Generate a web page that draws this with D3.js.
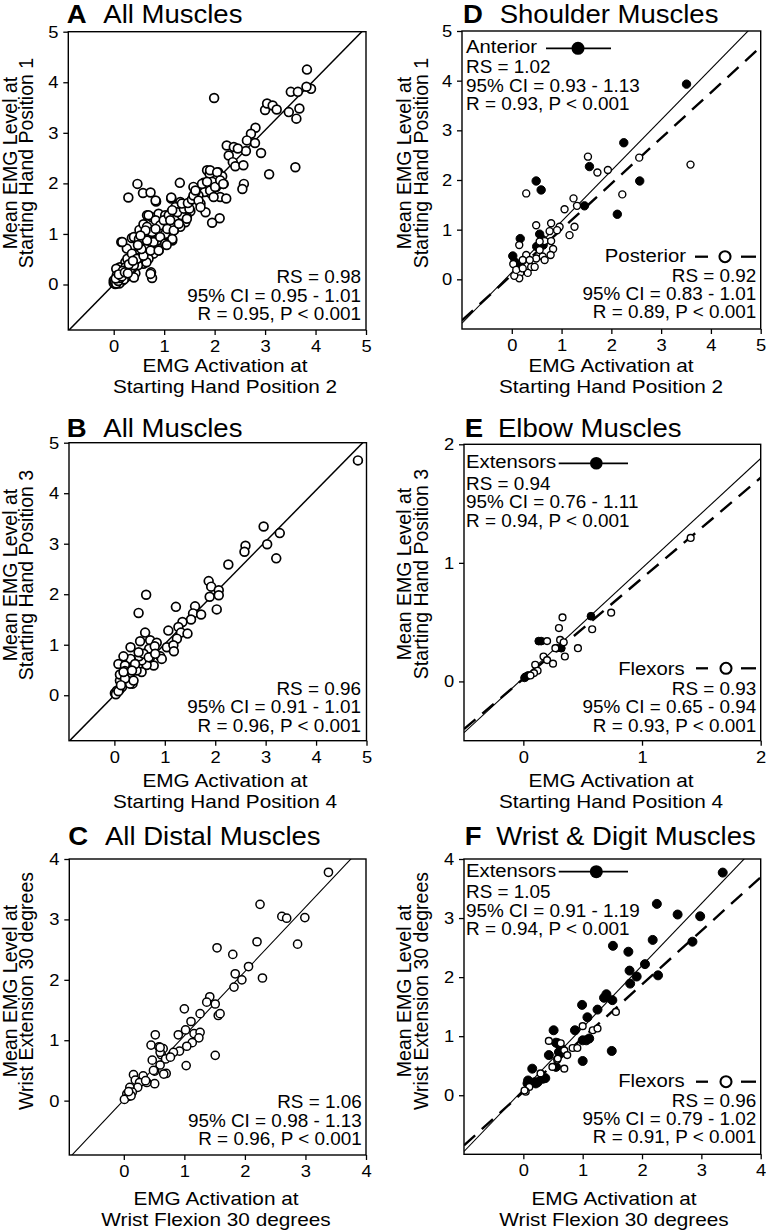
<!DOCTYPE html>
<html><head><meta charset="utf-8">
<script src="https://cdn.jsdelivr.net/npm/d3@7"></script>
<style>body{margin:0;background:#fff}svg{display:block}</style>
</head><body>
<svg id="c" width="766" height="1230"></svg>
<script>
// ---------------- DATA ----------------
const ticks5 = [0, 1, 2, 3, 4, 5];
const ticks4 = [0, 1, 2, 3, 4];
const ticks2 = [0, 1, 2];

const pointsA = [
[3.83,4.25],[3.91,3.87],[3.82,3.91],[3.51,3.81],[3.65,3.81],[3.68,3.48],[3.62,3.28],[3.47,3.41],[3.00,3.45],[3.04,3.58],[3.15,3.54],[3.23,3.46],[1.99,3.69],[2.81,3.10],[2.72,2.98],[2.64,2.85],[2.80,2.80],[2.62,2.64],[2.24,2.75],[2.38,2.72],[2.46,2.69],[2.28,2.55],[2.36,2.42],[2.41,2.34],[2.57,2.36],[2.92,2.60],[3.08,2.18],[3.60,2.32],[2.58,1.99],[2.55,1.89],[1.85,2.26],[1.90,2.19],[2.07,2.22],[2.15,2.14],[1.78,2.01],[1.95,2.03],[2.03,1.93],[2.18,1.99],[2.11,1.73],[2.23,1.70],[1.93,1.80],[1.80,1.83],[1.68,1.76],[1.58,1.93],[1.62,1.83],[1.72,1.60],[1.82,1.43],[2.10,1.31],[1.95,1.22],[1.31,2.01],[0.47,1.99],[0.58,1.81],[0.73,1.82],[0.29,1.72],[0.84,1.64],[1.14,1.70],[1.32,1.63],[1.39,1.58],[1.47,1.53],[1.52,1.45],[1.22,1.53],[1.14,1.43],[1.35,1.43],[1.25,1.33],[1.45,1.33],[1.42,1.23],[1.32,1.14],[1.19,1.07],[1.16,0.87],[1.02,1.00],[1.12,1.20],[1.02,1.23],[0.88,1.27],[0.76,1.33],[0.66,1.37],[0.89,1.40],[1.02,1.37],[0.81,1.07],[0.86,0.97],[1.04,0.82],[0.89,0.67],[0.69,1.00],[0.63,0.90],[0.51,1.08],[0.59,1.19],[0.66,1.14],[0.56,0.87],[0.46,0.92],[0.36,0.92],[0.15,0.84],[0.26,0.71],[0.40,0.61],[0.51,0.61],[0.64,0.69],[0.73,0.74],[0.79,0.61],[0.69,0.51],[0.59,0.41],[0.65,0.44],[0.74,0.24],[0.76,0.13],[0.43,0.22],[0.48,0.38],[0.43,0.48],[0.33,0.41],[0.26,0.31],[0.23,0.44],[0.12,0.34],[0.07,0.28],[0.10,0.15],[0.20,0.18],[0.33,0.20],[0.03,0.08],[0.13,0.05],[0.03,0.01],[0.07,0.11],[0.17,0.08],[0.00,0.03],[0.25,0.15],[0.36,0.31],[0.53,0.54],[0.86,0.87],
[0.07,0.14],[0.13,0.24],[0.23,0.34],[0.05,0.31],[0.33,0.31],[0.40,0.38],[0.27,0.51],[0.36,0.61],[0.46,0.51],[0.17,0.84],[0.40,0.94],[0.50,0.90],[0.63,0.71],[0.59,0.57],[0.73,0.67],[0.79,0.84],[0.89,0.67],[0.66,0.87],[0.76,1.04],[0.63,1.07],[0.53,0.97],[0.69,1.37],[0.83,1.27],[0.92,1.17],[0.99,1.27],[1.09,1.37],[1.12,1.27],[1.06,1.10],[1.19,1.07],[1.16,0.90],[1.29,1.20],[1.35,1.37],[1.26,1.43],[1.16,1.47],[1.45,1.30],[1.39,1.50],[1.50,1.50],[1.35,1.60],[1.47,1.61],[1.55,1.68],[1.58,1.76],[1.68,1.66],[1.72,1.53],[1.62,1.86],[1.75,1.99],[1.85,2.03],[1.91,1.86],[2.01,1.93],[1.91,2.26],[2.05,2.22],[2.11,2.06],[2.17,1.99],[1.98,1.73],[0.83,1.66],[1.14,1.72],[0.83,1.10],[0.92,0.94],[1.02,0.81],[0.73,0.21],[0.40,0.14],[0.00,0.08],[1.05,0.78],[0.08,0.04],[0.15,0.12],[0.11,0.02],[0.20,0.10],[0.06,0.18],
[0.02,0.05],[0.05,0.02],[0.09,0.07],[0.12,0.13],[0.04,0.12],[0.16,0.16],[0.18,0.27],[0.10,0.20],[0.22,0.24],[0.28,0.22],[0.30,0.40],[0.38,0.47],[0.55,0.70],[0.48,0.78]
];

const pointsB = [
[4.83,4.65],[2.96,3.34],[3.28,3.21],[3.03,2.99],[3.21,2.71],[2.60,2.96],[2.58,2.84],[2.26,2.59],[1.87,2.26],[1.92,2.15],[1.89,1.95],[2.07,2.08],[2.07,1.98],[2.03,1.70],[0.63,1.99],[0.48,1.63],[1.22,1.75],[1.60,1.76],[1.56,1.62],[1.72,1.60],[1.52,1.50],[1.35,1.45],[1.27,1.35],[1.07,1.28],[1.32,1.24],[1.45,1.22],[1.24,1.12],[1.04,0.95],[1.17,0.99],[1.18,0.87],[0.61,1.24],[0.51,1.07],[0.32,0.95],[0.71,1.09],[0.84,1.04],[0.69,0.92],[0.80,0.97],[0.91,0.77],[0.94,0.72],[0.78,0.59],[0.64,0.60],[0.54,0.69],[0.49,0.77],[0.32,0.72],[0.18,0.77],[0.08,0.62],[0.21,0.59],[0.38,0.56],[0.54,0.46],[0.44,0.49],[0.31,0.44],[0.23,0.30],[0.36,0.23],[0.11,0.29],[0.15,0.16],[0.05,0.06],[0.01,0.04],[0.10,0.11],[0.11,0.41],[0.21,0.48],[0.41,0.62],[0.58,0.82],[0.48,0.85],[0.71,0.75],[0.05,0.09],[0.31,0.23],[0.38,0.29],[0.21,0.33],[0.18,0.46],[0.35,0.49],[0.68,0.75],[0.81,0.82],[0.03,0.02],[0.08,0.08],[0.13,0.20]
];

const pointsC = [
[3.38,3.78],[2.25,3.25],[2.61,3.05],[2.69,3.02],[2.99,3.03],[2.20,2.63],[2.87,2.59],[1.54,2.53],[1.80,2.42],[2.06,2.22],[1.84,2.10],[1.95,2.00],[1.82,1.88],[2.29,2.03],[1.42,1.72],[1.37,1.63],[1.51,1.60],[1.56,1.41],[1.59,1.44],[1.26,1.44],[1.00,1.52],[1.11,1.31],[1.02,1.17],[0.90,1.09],[1.16,1.11],[1.26,1.13],[1.24,1.04],[1.13,0.96],[1.04,0.90],[0.92,0.82],[0.82,0.80],[1.51,0.75],[1.03,0.58],[0.52,1.09],[0.45,0.92],[0.58,0.89],[0.65,0.86],[0.62,0.76],[0.69,0.69],[0.77,0.72],[0.47,0.67],[0.60,0.59],[0.51,0.49],[0.70,0.45],[0.51,0.28],[0.16,0.43],[0.32,0.41],[0.19,0.34],[0.38,0.30],[0.26,0.30],[0.23,0.22],[0.10,0.22],[0.14,0.14],[0.05,0.11],[0.08,0.07],[0.01,0.02],[0.12,0.08],[0.08,0.15],[0.36,0.33],[0.49,0.50],[0.66,0.44],[0.60,0.80],[0.60,0.88]
];

const pointsDAnterior = [
[3.51,3.93],[2.25,2.75],[1.56,2.27],[2.57,1.98],[0.49,1.98],[0.59,1.80],[1.46,1.48],[2.12,1.31],[0.56,0.91],[0.17,0.82],[0.02,0.47],[0.62,0.80],[0.50,0.66],[0.06,0.35],[0.13,0.29],[0.63,0.69]
];
const pointsDPosterior = [
[3.59,2.31],[2.56,2.45],[2.22,1.71],[1.53,2.47],[1.72,2.15],[1.93,2.20],[0.29,1.73],[1.24,1.63],[1.31,1.48],[1.06,1.41],[0.49,1.09],[0.79,1.13],[1.26,1.06],[1.16,0.89],[0.96,1.06],[0.91,0.99],[0.76,0.97],[0.66,0.77],[0.79,0.77],[0.83,0.61],[0.56,0.76],[0.56,0.59],[0.62,0.46],[0.66,0.39],[0.78,0.49],[0.49,0.42],[0.39,0.25],[0.29,0.49],[0.22,0.39],[0.36,0.39],[0.46,0.25],[0.32,0.13],[0.17,0.13],[0.15,0.69],[0.15,0.02],[0.05,0.07],[0.03,0.31],[0.09,0.19],[0.22,0.22]
];

const pointsEExtensors = [[0.57,0.55],[0.13,0.34],[0.15,0.34],[0.28,0.28],[0.32,0.28],[0.02,0.04],[0.04,0.05],[0.01,0.03]];
const pointsEFlexors = [
[1.41,1.21],[0.74,0.58],[0.58,0.44],[0.33,0.54],[0.30,0.45],[0.31,0.35],[0.34,0.33],[0.20,0.34],[0.27,0.28],[0.46,0.28],[0.35,0.21],[0.17,0.21],[0.20,0.18],[0.25,0.15],[0.10,0.14],[0.12,0.09],[0.09,0.07],[0.06,0.05]
];

const pointsFExtensors = [
[3.36,3.77],[2.25,3.24],[2.60,3.06],[2.98,3.03],[2.18,2.63],[2.85,2.60],[1.51,2.53],[1.77,2.43],[2.05,2.22],[1.79,2.11],[1.91,2.01],[1.80,1.89],[2.27,2.03],[1.40,1.71],[1.36,1.65],[1.50,1.61],[1.25,1.45],[0.99,1.53],[1.08,1.32],[0.87,1.10],[1.06,0.93],[1.11,0.96],[1.49,0.75],[1.00,0.58],[0.51,1.10],[0.55,0.89],[0.43,0.68],[0.60,0.73],[0.55,0.48],[0.15,0.45],[0.08,0.25],[0.21,0.20],[0.37,0.29],[0.58,0.88],[0.64,0.79],[0.19,0.22],[0.24,0.22],[0.33,0.28],[0.07,0.20],[1.00,0.93]
];
const pointsFFlexors = [
[1.56,1.41],[1.00,1.17],[1.17,1.10],[1.25,1.13],[0.43,0.92],[0.63,0.88],[0.83,0.80],[0.91,0.80],[0.69,0.76],[0.74,0.68],[0.57,0.60],[0.49,0.48],[0.69,0.45],[0.29,0.37],[0.10,0.14],[0.04,0.06],[0.02,0.08],[0.58,0.62]
];

// regression lines: [slope, intercept]
const fitA = [1.017, 0.0];
const fitB = [1.015, 0.0];
const fitC = [1.064, 0.01];
const fitDAnterior = [1.024, 0.14];
const fitDPosterior = [0.918, 0.09];
const fitEExtensors = [0.925, 0.03];
const fitEFlexors = [0.848, 0.022];
const fitFExtensors = [1.049, 0.097];
const fitFFlexors = [0.908, 0.06];

const statsA = ["RS = 0.98", "95% CI = 0.95 - 1.01", "R = 0.95, P < 0.001"];
const statsB = ["RS = 0.96", "95% CI = 0.91 - 1.01", "R = 0.96, P < 0.001"];
const statsC = ["RS = 1.06", "95% CI = 0.98 - 1.13", "R = 0.96, P < 0.001"];
const statsDAnterior = ["RS = 1.02", "95% CI = 0.93 - 1.13", "R = 0.93, P < 0.001"];
const statsDPosterior = ["RS = 0.92", "95% CI = 0.83 - 1.01", "R = 0.89, P < 0.001"];
const statsEExtensors = ["RS = 0.94", "95% CI = 0.76 - 1.11", "R = 0.94, P < 0.001"];
const statsEFlexors = ["RS = 0.93", "95% CI = 0.65 - 0.94", "R = 0.93, P < 0.001"];
const statsFExtensors = ["RS = 1.05", "95% CI = 0.91 - 1.19", "R = 0.94, P < 0.001"];
const statsFFlexors = ["RS = 0.96", "95% CI = 0.79 - 1.02", "R = 0.91, P < 0.001"];

const yLabel1 = ["Mean EMG Level at", "Starting Hand Position 1"];
const yLabel3 = ["Mean EMG Level at", "Starting Hand Position 3"];
const yLabelW = ["Mean EMG Level at", "Wrist Extension 30 degrees"];
const xLabel2 = ["EMG Activation at", "Starting Hand Position 2"];
const xLabel4 = ["EMG Activation at", "Starting Hand Position 4"];
const xLabelW = ["EMG Activation at", "Wrist Flexion 30 degrees"];

// ---------------- DRAWING ----------------
const FONT = "'Liberation Sans', Arial, Helvetica, sans-serif";
const SX = 1.08;
const svg = d3.select("#c");
svg.append("rect").attr("width", 766).attr("height", 1230).attr("fill", "#fff");

function txt(g, x, y, s, size, opt = {}) {
  return g.append("text")
    .attr("transform", `translate(${x},${y}) scale(${opt.sx ?? SX},1)`)
    .attr("text-anchor", opt.anchor || "start")
    .attr("font-size", size)
    .attr("font-weight", opt.weight || "normal")
    .attr("font-family", FONT)
    .attr("fill", "#000")
    .text(s);
}

function legendSolid(g, x1, x2, cx, cy, r) {
  g.append("line").attr("x1", x1).attr("x2", x2).attr("y1", cy).attr("y2", cy)
    .attr("stroke", "#000").attr("stroke-width", 1.7);
  g.append("circle").attr("cx", cx).attr("cy", cy).attr("r", r).attr("fill", "#000");
}
function legendDashed(g, segs, cx, cy, r) {
  segs.forEach(s => g.append("line").attr("x1", s[0]).attr("x2", s[1]).attr("y1", cy).attr("y2", cy)
    .attr("stroke", "#000").attr("stroke-width", 2.3));
  g.append("circle").attr("cx", cx).attr("cy", cy).attr("r", r).attr("fill", "#fff")
    .attr("stroke", "#000").attr("stroke-width", 2.1);
}

function panel(cfg) {
  const x = d3.scaleLinear().domain(cfg.dom).range([cfg.l, cfg.r]);
  const y = d3.scaleLinear().domain(cfg.dom).range([cfg.b, cfg.t]);
  const g = svg.append("g");
  const cid = "clip" + cfg.key;
  svg.append("clipPath").attr("id", cid).append("rect")
    .attr("x", cfg.l).attr("y", cfg.t).attr("width", cfg.r - cfg.l).attr("height", cfg.b - cfg.t);

  cfg.fits.forEach(f => {
    const [m, c] = f.coef;
    const x0 = cfg.dom[0], x1 = cfg.dom[1];
    g.append("line").attr("clip-path", `url(#${cid})`)
      .attr("x1", x(x0)).attr("y1", y(m * x0 + c))
      .attr("x2", x(x1)).attr("y2", y(m * x1 + c))
      .attr("stroke", "#000").attr("stroke-width", f.w)
      .attr("stroke-dasharray", f.dash || null);
  });

  cfg.series.forEach(s => {
    g.append("g").selectAll("circle").data(s.data).join("circle")
      .attr("cx", d => x(d[0])).attr("cy", d => y(d[1])).attr("r", s.r)
      .attr("fill", s.filled ? "#000" : "#fff")
      .attr("stroke", "#000").attr("stroke-width", s.sw);
  });

  g.append("rect").attr("x", cfg.l).attr("y", cfg.t).attr("width", cfg.r - cfg.l).attr("height", cfg.b - cfg.t)
    .attr("fill", "none").attr("stroke", "#000").attr("stroke-width", 1.4);

  const fmt = d3.format("d");
  const ax = g.append("g").attr("transform", `translate(0,${cfg.b})`)
    .call(d3.axisBottom(x).tickValues(cfg.ticks).tickSize(5).tickPadding(5).tickFormat(fmt));
  const ay = g.append("g").attr("transform", `translate(${cfg.l},0)`)
    .call(d3.axisLeft(y).tickValues(cfg.ticks).tickSize(5).tickPadding(4).tickFormat(fmt));
  [ax, ay].forEach(a => {
    a.select(".domain").remove();
    a.attr("font-size", 17).attr("font-family", FONT);
    a.selectAll(".tick line").attr("stroke", "#000").attr("stroke-width", 1.3);
    a.selectAll(".tick text").attr("fill", "#000").attr("transform", `scale(${SX},1)`);
  });

  txt(g, cfg.title[0], cfg.title[2], cfg.letter, 25.5, { weight: "bold" });
  txt(g, cfg.title[1], cfg.title[2], cfg.name, 25.5);

  const yl = g.append("g").attr("transform", `translate(0,${cfg.ylab.cy}) rotate(-90)`);
  cfg.ylab.lines.forEach((s, i) => {
    yl.append("text").attr("x", 0).attr("y", cfg.ylab.xs[i]).attr("text-anchor", "middle")
      .attr("font-size", 19.5).attr("font-family", FONT).attr("fill", "#000").text(s);
  });

  cfg.xlab.lines.forEach((s, i) => txt(g, cfg.xlab.cx, cfg.xlab.ys[i], s, 18.4, { anchor: "middle", sx: 1.13 }));

  cfg.texts.forEach(t => {
    t.lines.forEach((s, i) => txt(g, t.x, t.ys[i], s, t.size || 17.5, { anchor: t.anchor }));
  });
  if (cfg.legend) cfg.legend(g);
}

panel({
  key: "A", l: 68.3, r: 366, t: 31.7, b: 330, dom: [-0.9, 5], ticks: ticks5,
  letter: "A", name: "All Muscles", title: [66.7, 103.3, 23.3],
  ylab: { cy: 163, xs: [16.7, 33.3], lines: yLabel1 },
  xlab: { cx: 225, ys: [372, 393], lines: xLabel2 },
  texts: [{ x: 361, ys: [283.3, 301.7, 320], lines: statsA, anchor: "end" }],
  fits: [{ coef: fitA, w: 1.5 }],
  series: [{ data: pointsA, r: 4.4, sw: 1.7, filled: false }]
});

panel({
  key: "B", l: 69, r: 366.5, t: 442.7, b: 740.7, dom: [-0.9, 5], ticks: ticks5,
  letter: "B", name: "All Muscles", title: [66.7, 103.3, 436.7],
  ylab: { cy: 575, xs: [16.7, 33.3], lines: yLabel3 },
  xlab: { cx: 225, ys: [786.5, 807.5], lines: xLabel4 },
  texts: [{ x: 361, ys: [695, 713.3, 731.7], lines: statsB, anchor: "end" }],
  fits: [{ coef: fitB, w: 1.5 }],
  series: [{ data: pointsB, r: 4.4, sw: 1.7, filled: false }]
});

panel({
  key: "C", l: 69.3, r: 366, t: 859, b: 1155, dom: [-0.9, 4], ticks: ticks4,
  letter: "C", name: "All Distal Muscles", title: [68.3, 105, 845],
  ylab: { cy: 991, xs: [16.7, 33.3], lines: yLabelW },
  xlab: { cx: 216, ys: [1204.5, 1225.5], lines: xLabelW },
  texts: [{ x: 361.7, ys: [1108.3, 1126.7, 1145], lines: statsC, anchor: "end" }],
  fits: [{ coef: fitC, w: 1.1 }],
  series: [{ data: pointsC, r: 4.1, sw: 1.5, filled: false }]
});

panel({
  key: "D", l: 462, r: 760.7, t: 31, b: 329, dom: [-1, 5], ticks: ticks5,
  letter: "D", name: "Shoulder Muscles", title: [463, 499.7, 23.3],
  ylab: { cy: 163, xs: [411, 428], lines: yLabel1 },
  xlab: { cx: 611, ys: [372, 393], lines: xLabel2 },
  texts: [
    { x: 466, ys: [53.3], lines: ["Anterior"], anchor: "start", size: 18.8 },
    { x: 466, ys: [73.3, 91.7, 110], lines: statsDAnterior, anchor: "start" },
    { x: 686, ys: [261.7], lines: ["Posterior"], anchor: "end", size: 18.8 },
    { x: 756.3, ys: [281.7, 300, 318.3], lines: statsDPosterior, anchor: "end" }
  ],
  fits: [{ coef: fitDAnterior, w: 1.1 }, { coef: fitDPosterior, w: 2.4, dash: "15,9" }],
  series: [
    { data: pointsDAnterior, r: 4.2, sw: 1, filled: true },
    { data: pointsDPosterior, r: 3.5, sw: 1.4, filled: false }
  ],
  legend: g => {
    legendSolid(g, 546, 611, 578, 48.3, 6.5);
    legendDashed(g, [[695, 708], [741, 756]], 725, 256.7, 5.5);
  }
});

panel({
  key: "E", l: 464, r: 760.7, t: 444.3, b: 740.7, dom: [-0.5, 2], ticks: ticks2,
  letter: "E", name: "Elbow Muscles", title: [464.7, 498, 436.7],
  ylab: { cy: 574, xs: [411, 428], lines: yLabel3 },
  xlab: { cx: 611, ys: [786.5, 807.5], lines: xLabel4 },
  texts: [
    { x: 466, ys: [468.3], lines: ["Extensors"], anchor: "start", size: 18.8 },
    { x: 466, ys: [490, 508.3, 526.7], lines: statsEExtensors, anchor: "start" },
    { x: 684.7, ys: [675], lines: ["Flexors"], anchor: "end", size: 18.8 },
    { x: 756.3, ys: [695, 713.3, 731.7], lines: statsEFlexors, anchor: "end" }
  ],
  fits: [{ coef: fitEExtensors, w: 1.1 }, { coef: fitEFlexors, w: 2.4, dash: "15,9" }],
  series: [
    { data: pointsEExtensors, r: 3.9, sw: 1, filled: true },
    { data: pointsEFlexors, r: 3.4, sw: 1.4, filled: false }
  ],
  legend: g => {
    legendSolid(g, 558.7, 628, 596.3, 463.3, 6.3);
    legendDashed(g, [[696, 708], [741, 756]], 726, 668.3, 5.5);
  }
});

panel({
  key: "F", l: 464, r: 760.7, t: 859, b: 1154.3, dom: [-1, 4], ticks: ticks4,
  letter: "F", name: "Wrist & Digit Muscles", title: [464.7, 496.3, 845],
  ylab: { cy: 991, xs: [411, 428], lines: yLabelW },
  xlab: { cx: 614, ys: [1204.5, 1225.5], lines: xLabelW },
  texts: [
    { x: 466, ys: [876.7], lines: ["Extensors"], anchor: "start", size: 18.8 },
    { x: 466, ys: [898, 916.7, 935], lines: statsFExtensors, anchor: "start" },
    { x: 684.7, ys: [1086.7], lines: ["Flexors"], anchor: "end", size: 18.8 },
    { x: 756.3, ys: [1106.7, 1125, 1143.3], lines: statsFFlexors, anchor: "end" }
  ],
  fits: [{ coef: fitFExtensors, w: 1.1 }, { coef: fitFFlexors, w: 2.4, dash: "15,9" }],
  series: [
    { data: pointsFExtensors, r: 4.5, sw: 1, filled: true },
    { data: pointsFFlexors, r: 3.4, sw: 1.4, filled: false }
  ],
  legend: g => {
    legendSolid(g, 558.7, 628, 596.3, 871.7, 6.5);
    legendDashed(g, [[696, 708], [741, 756]], 726, 1081.7, 5.5);
  }
});
</script>
</body></html>
